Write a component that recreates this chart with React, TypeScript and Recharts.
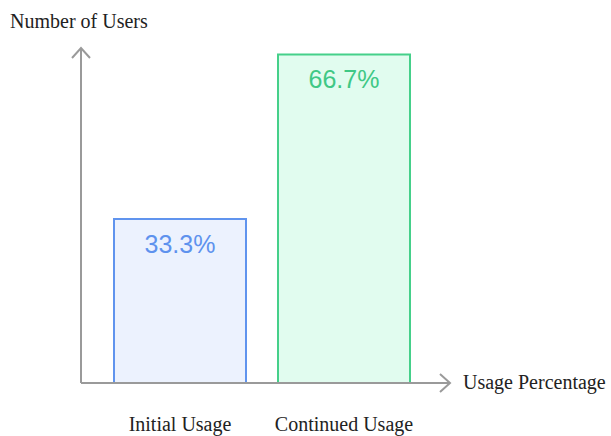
import React from 'react';
import * as R from 'recharts';
import { BarChart, Bar, XAxis, YAxis, Cell, LabelList, Customized } from 'recharts';

const categories = ['Initial Usage', 'Continued Usage'];
const values = [33.3, 66.7];
const valueLabels = ['33.3%', '66.7%'];
const fills = ['#ECF2FE', '#E1FCEF'];
const strokes = ['#6094EE', '#45D08A'];
const labelColors = ['#5E92EE', '#3FC885'];

const data = categories.map((c, i) => ({ name: c, value: values[i], label: valueLabels[i] }));

const AXIS = '#9a9a9a';
const SERIF = '"Liberation Serif", "Times New Roman", serif';
const SANS = '"Liberation Sans", Arial, sans-serif';

const Decor = () => {
  const usePA = (R as any).usePlotArea;
  const pa = usePA ? usePA() : null;
  if (!pa) return null;
  const left = pa.x;
  const top = pa.y;
  const right = pa.x + pa.width;
  const bottom = pa.y + pa.height;
  return (
    <g>
      <line x1={left} y1={bottom} x2={left} y2={top} stroke={AXIS} strokeWidth={2} />
      <polyline points={`${left - 9},${top + 10} ${left},${top} ${left + 9},${top + 10}`} fill="none" stroke={AXIS} strokeWidth={2} />
      <polyline points={`${right - 10},${bottom - 9} ${right},${bottom} ${right - 10},${bottom + 9}`} fill="none" stroke={AXIS} strokeWidth={2} />
      <text x={left - 71} y={top - 20} style={{ fontFamily: SERIF }} fontSize={20} fill="#222">Number of Users</text>
      <text x={right + 13} y={bottom + 6} style={{ fontFamily: SERIF }} fontSize={20} fill="#222">Usage Percentage</text>
    </g>
  );
};

const Tick = (props: any) => {
  const { x, y, payload } = props;
  return (
    <text x={x} y={y + 48} textAnchor="middle" style={{ fontFamily: SERIF }} fontSize={20} fill="#222">
      {payload.value}
    </text>
  );
};

const BarLabel = (props: any) => {
  const { x, y, width, value, index } = props;
  return (
    <text x={x + width / 2} y={y + 25} textAnchor="middle" dominantBaseline="central" style={{ fontFamily: SANS }} fontSize={25} fill={labelColors[index]}>
      {value}
    </text>
  );
};

export default function App() {
  return (
    <div style={{ position: 'absolute', left: 0, top: 0, background: '#fff' }}>
      <BarChart width={611} height={436} data={data} margin={{ top: 48, left: 81, right: 161, bottom: 8 }} barCategoryGap={0}>
        <XAxis
          dataKey="name"
          height={45}
          axisLine={{ stroke: AXIS, strokeWidth: 2 }}
          tickLine={false}
          tickSize={0}
          tickMargin={0}
          tick={<Tick />}
          padding={{ left: 17, right: 24 }}
          interval={0}
        />
        <YAxis width={0} domain={[0, 68]} hide allowDataOverflow />
        <Bar dataKey="value" barSize={132} isAnimationActive={false} strokeWidth={2}>
          {data.map((d, i) => (
            <Cell key={d.name} fill={fills[i]} stroke={strokes[i]} />
          ))}
          <LabelList dataKey="label" content={<BarLabel />} />
        </Bar>
        <Customized component={Decor} />
      </BarChart>
    </div>
  );
}
